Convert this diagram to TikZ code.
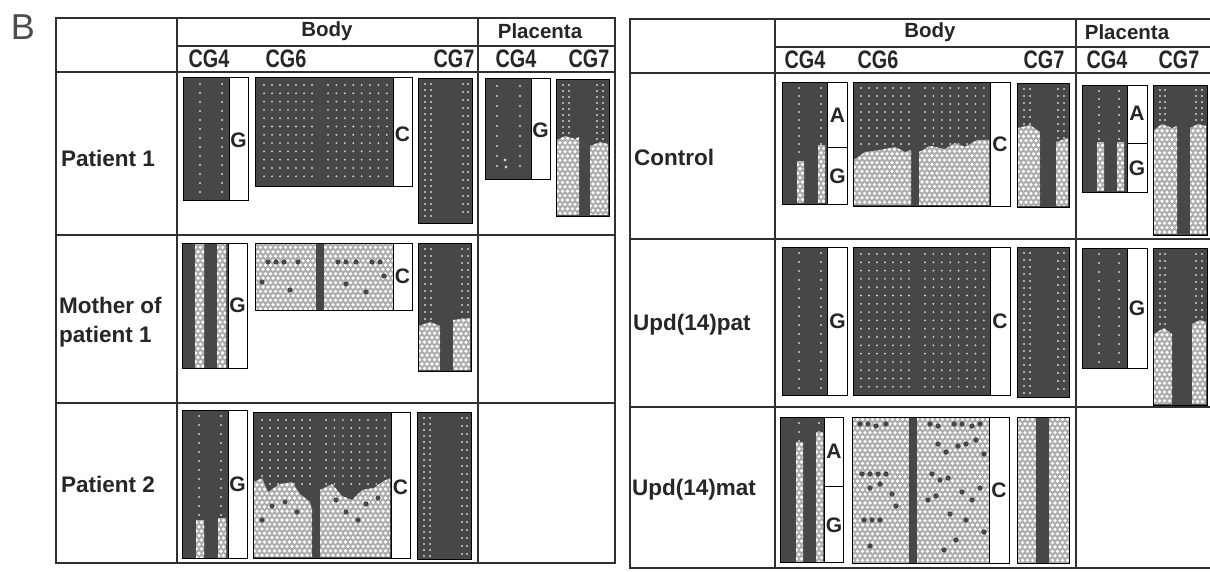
\documentclass[tikz,border=0pt]{standalone}
\usepackage{fontspec}
\setmainfont{Liberation Sans}
\definecolor{dk}{HTML}{474747}
\definecolor{ltc}{HTML}{ACACAC}
\definecolor{dt}{HTML}{D0D0D0}
\definecolor{ln}{HTML}{303030}
\tikzset{
  tline/.style={draw=ln, line width=1.3},
  dkblk/.style={fill=dk, draw=black, line width=0.9},
  lbx/.style={fill=white, draw=black, line width=0.9},
  hdr/.style={font=\fontsize{20.5}{22}\bfseries\selectfont, text=black!85, inner sep=0pt},
  cg/.style={font=\fontsize{22}{22}\bfseries\selectfont, text=black!85, inner sep=0pt},
  rowl/.style={font=\fontsize{22.5}{29}\bfseries\selectfont, text=black!85, inner sep=0pt, anchor=west, align=left},
  bl/.style={font=\fontsize{21}{21}\bfseries\selectfont, text=black!85, inner sep=0pt},
}
\newcommand{\cgt}[1]{\scalebox{0.9}[1.15]{#1}}
% dots in a dark block: x0,dx,nx,y0,dy,ny
\newcommand{\dkgrid}[6]{\foreach \ii in {0,...,#3}{\foreach \jj in {0,...,#6}{\fill[dt] ({#1+#2*\ii},{#4+#5*\jj}) circle (1.05);}}}
% light textured region: path, x0,y0,x1,y1
\newcommand{\ltreg}[5]{\begin{scope}\clip #1;\fill[ltc] (#2,#3) rectangle (#4,#5);
  \pgfmathtruncatemacro{\nxx}{(#4-#2)/5+1}\pgfmathtruncatemacro{\nyy}{(#5-#3)/4.4+1}
  \foreach \ii in {0,...,\nxx}{\foreach \jj in {0,...,\nyy}{\fill[white] ({#2+5*\ii+2.5*mod(\jj,2)},{#3+4.4*\jj}) circle (1.8);}}
  \end{scope}}
\begin{document}
\begin{tikzpicture}[x=1pt,y=-1pt]
\useasboundingbox (0,0) rectangle (1210,572);
\fill[white] (0,0) rectangle (1210,572);
\node[font=\fontsize{36}{36}\selectfont, text=black!70, inner sep=0pt] (B) at (23,27) {B};

% ================= LEFT TABLE =================
\draw[tline] (56,18) rectangle (615,563);
\draw[tline] (177,18) -- (177,563);
\draw[tline] (478,18) -- (478,563);
\draw[tline] (177,46) -- (615,46);
\draw[tline] (56,72) -- (615,72);
\draw[tline] (56,235) -- (615,235);
\draw[tline] (56,403) -- (615,403);

\node[hdr] (bodyL) at (327,31) {Body};
\node[hdr] (placL) at (540,31) {Placenta};
\node[cg] (l4) at (209,59) {\cgt{CG4}};
\node[cg] (l6) at (286,59) {\cgt{CG6}};
\node[cg] (l7) at (454,59) {\cgt{CG7}};
\node[cg] (lp4) at (516,59) {\cgt{CG4}};
\node[cg] (lp7) at (589,59) {\cgt{CG7}};

\node[rowl] (p1) at (61,158) {Patient 1};
\node[rowl] (m1) at (59,322) {Mother of\\patient 1};
\node[rowl] (p2) at (61,484) {Patient 2};

% --- Patient 1
\draw[dkblk] (183,77) rectangle (229,200);
\dkgrid{200}{22}{1}{84}{9}{12}
\draw[lbx] (229,77) rectangle (248,200);
\node[bl] (g1) at (238.5,140) {G};

\draw[dkblk] (255,77) rectangle (393,186);
\dkgrid{264}{8}{6}{85}{8.3}{11}
\dkgrid{328}{8.4}{7}{85}{8.3}{11}
\draw[lbx] (393,77) rectangle (412,186);
\node[bl] (c1) at (402.5,134) {C};

\draw[dkblk] (418,78) rectangle (472,223);
\dkgrid{425}{6}{1}{84}{6}{22}
\dkgrid{463}{5}{1}{84}{8}{16}

\draw[dkblk] (485,78) rectangle (531,179);
\dkgrid{497}{23}{1}{86}{10}{8}
\fill[dt] (505,160) circle (1.6); \fill[dt] (506,167) circle (1.6);
\draw[lbx] (531,78) rectangle (550,179);
\node[bl] (g2) at (540.5,130) {G};

\draw[dkblk] (556,79) rectangle (609,216);
\dkgrid{563}{6}{1}{85}{6}{9}
\dkgrid{597}{6}{1}{85}{6}{9}
\ltreg{(557,140)--(565,136)--(575,139)--(579,137)--(579,215)--(557,215)--cycle}{555}{134}{580}{216}
\ltreg{(590,146)--(600,142)--(608,144)--(608,215)--(590,215)--cycle}{588}{140}{609}{216}
\draw[black, line width=0.9] (556,79) rectangle (609,216);

% --- Mother of patient 1
\draw[dkblk] (182,243) rectangle (228,368);
\ltreg{(195,244) rectangle (204,367)}{193}{243}{205}{368}
\ltreg{(217,244) rectangle (226,367)}{215}{243}{227}{368}
\draw[black, line width=0.9] (182,243) rectangle (228,368);
\draw[lbx] (228,243) rectangle (247,368);
\node[bl] (g3) at (237.5,305) {G};

\ltreg{(255,243) rectangle (393,310)}{253}{243}{394}{311}
\fill[dk] (316,243) rectangle (324,310);
\foreach \p in {(268,262),(276,262),(284,262),(298,262),(338,262),(346,262),(356,262),(372,262),(380,262),(262,282),(290,290),(346,284),(366,292),(384,276)}{\fill[dk] \p circle (2.6);}
\draw[black, line width=0.9] (255,243) rectangle (393,310);
\draw[lbx] (393,243) rectangle (412,310);
\node[bl] (c2) at (402.5,276) {C};

\draw[dkblk] (418,243) rectangle (471,371);
\dkgrid{425}{6}{1}{249}{7}{10}
\dkgrid{462}{6}{1}{249}{7}{10}
\ltreg{(419,326)--(430,322)--(440,326)--(440,370)--(419,370)--cycle}{417}{320}{441}{371}
\ltreg{(453,320)--(470,318)--(470,370)--(453,370)--cycle}{451}{316}{471}{371}
\draw[black, line width=0.9] (418,243) rectangle (471,371);

% --- Patient 2
\draw[dkblk] (182,410) rectangle (228,558);
\dkgrid{199}{22}{1}{416}{9}{11}
\ltreg{(196,520) rectangle (204,557)}{194}{518}{205}{558}
\ltreg{(218,518) rectangle (226,557)}{216}{516}{227}{558}
\draw[black, line width=0.9] (182,410) rectangle (228,558);
\draw[lbx] (228,410) rectangle (247,558);
\node[bl] (g4) at (237.5,484) {G};

\draw[dkblk] (253,412) rectangle (391,558);
\dkgrid{262}{8}{6}{420}{8}{8}
\dkgrid{326}{8.4}{7}{420}{8}{8}
\ltreg{(254,482)--(262,478)--(268,492)--(280,484)--(292,482)--(300,494)--(310,502)--(312,510)--(312,557)--(254,557)--cycle}{252}{476}{313}{558}
\ltreg{(320,490)--(332,484)--(342,496)--(352,500)--(362,490)--(374,488)--(382,482)--(390,478)--(390,557)--(320,557)--cycle}{318}{476}{391}{558}
\foreach \p in {(272,506),(285,502),(297,512),(336,500),(346,512),(366,504),(378,498),(358,520),(262,520)}{\fill[dk] \p circle (2.6);}
\draw[black, line width=0.9] (253,412) rectangle (391,558);
\draw[lbx] (391,412) rectangle (410,558);
\node[bl] (c3) at (400.5,487) {C};

\draw[dkblk] (417,412) rectangle (471,559);
\dkgrid{424}{6}{1}{418}{6}{23}
\dkgrid{462}{5}{1}{418}{8}{17}

% ================= RIGHT TABLE =================
\begin{scope}
\clip (0,0) rectangle (1210,572);
\draw[tline] (630,19) rectangle (1240,568);
\draw[tline] (775,19) -- (775,568);
\draw[tline] (1076,19) -- (1076,568);
\draw[tline] (775,47) -- (1240,47);
\draw[tline] (630,73) -- (1240,73);
\draw[tline] (630,239) -- (1240,239);
\draw[tline] (630,407) -- (1240,407);

\node[hdr] (bodyR) at (930,32) {Body};
\node[hdr] (placR) at (1127,32) {Placenta};
\node[cg] (r4) at (805,60) {\cgt{CG4}};
\node[cg] (r6) at (878,60) {\cgt{CG6}};
\node[cg] (r7) at (1044,60) {\cgt{CG7}};
\node[cg] (rp4) at (1107,60) {\cgt{CG4}};
\node[cg] (rp7) at (1179,60) {\cgt{CG7}};

\node[rowl] (ctl) at (634,157) {Control};
\node[rowl] (upat) at (633,325) {Upd(14)pat};
\node[rowl] (umat) at (632,490) {Upd(14)mat};

% --- Control
\draw[dkblk] (782,82) rectangle (827,204);
\dkgrid{799}{22}{1}{88}{8}{8}
\ltreg{(797,162) rectangle (804,203)}{795}{160}{805}{204}
\ltreg{(818,146) rectangle (825,203)}{816}{144}{826}{204}
\draw[black, line width=0.9] (782,82) rectangle (827,204);
\draw[lbx] (827,82) rectangle (847,147);
\draw[lbx] (827,147) rectangle (847,204);
\node[bl] (a1) at (837.5,115) {A};
\node[bl] (g5) at (837.5,176) {G};

\draw[dkblk] (853,82) rectangle (990,206);
\dkgrid{861}{8}{6}{88}{8}{7}
\dkgrid{925}{8.4}{7}{88}{8}{7}
\ltreg{(854,160)--(865,152)--(880,150)--(895,147)--(905,152)--(911,150)--(911,205)--(854,205)--cycle}{852}{145}{912}{206}
\ltreg{(919,152)--(930,146)--(945,149)--(955,143)--(965,147)--(977,140)--(989,140)--(989,205)--(919,205)--cycle}{917}{138}{990}{206}
\draw[black, line width=0.9] (853,82) rectangle (990,206);
\draw[lbx] (990,82) rectangle (1010,206);
\node[bl] (c4) at (1000,144) {C};

\draw[dkblk] (1017,83) rectangle (1069,207);
\dkgrid{1024}{6}{1}{89}{7}{5}
\dkgrid{1058}{6}{1}{89}{7}{7}
\ltreg{(1018,128)--(1030,125)--(1040,132)--(1040,206)--(1018,206)--cycle}{1016}{123}{1041}{207}
\ltreg{(1056,142)--(1068,138)--(1068,206)--(1056,206)--cycle}{1054}{136}{1069}{207}
\draw[black, line width=0.9] (1017,83) rectangle (1069,207);

\draw[dkblk] (1082,85) rectangle (1127,192);
\dkgrid{1099}{20}{1}{91}{8}{6}
\ltreg{(1097,143) rectangle (1104,191)}{1095}{141}{1105}{192}
\ltreg{(1117,143) rectangle (1124,191)}{1115}{141}{1125}{192}
\draw[black, line width=0.9] (1082,85) rectangle (1127,192);
\draw[lbx] (1127,85) rectangle (1147,143);
\draw[lbx] (1127,143) rectangle (1147,192);
\node[bl] (a2) at (1137,113) {A};
\node[bl] (g6) at (1137,168) {G};

\draw[dkblk] (1153,85) rectangle (1207,235);
\dkgrid{1160}{5}{1}{90}{6}{5}
\dkgrid{1196}{6}{1}{90}{6}{5}
\ltreg{(1154,130)--(1162,124)--(1172,128)--(1177,126)--(1177,234)--(1154,234)--cycle}{1152}{122}{1178}{235}
\ltreg{(1190,128)--(1198,124)--(1206,126)--(1206,234)--(1190,234)--cycle}{1188}{122}{1207}{235}
\draw[black, line width=0.9] (1153,85) rectangle (1207,235);

% --- Upd(14)pat
\draw[dkblk] (782,247) rectangle (827,395);
\dkgrid{799}{22}{1}{253}{9}{15}
\draw[lbx] (827,247) rectangle (847,395);
\node[bl] (g7) at (837.5,321) {G};

\draw[dkblk] (853,247) rectangle (990,395);
\dkgrid{861}{8}{6}{254}{8.3}{16}
\dkgrid{925}{8.4}{7}{254}{8.3}{16}
\draw[lbx] (990,247) rectangle (1010,395);
\node[bl] (c5) at (1000,321) {C};

\draw[dkblk] (1017,247) rectangle (1069,397);
\dkgrid{1024}{6}{1}{253}{7}{20}
\dkgrid{1058}{6}{1}{253}{8}{17}

\draw[dkblk] (1082,248) rectangle (1127,368);
\dkgrid{1099}{20}{1}{254}{9}{12}
\draw[lbx] (1127,248) rectangle (1147,368);
\node[bl] (g8) at (1137,308) {G};

\draw[dkblk] (1153,248) rectangle (1207,405);
\dkgrid{1160}{5}{1}{254}{7}{10}
\dkgrid{1196}{6}{1}{254}{7}{10}
\ltreg{(1154,334)--(1164,328)--(1172,334)--(1172,404)--(1154,404)--cycle}{1152}{326}{1173}{405}
\ltreg{(1192,324)--(1200,320)--(1206,322)--(1206,404)--(1192,404)--cycle}{1190}{318}{1207}{405}
\draw[black, line width=0.9] (1153,248) rectangle (1207,405);

% --- Upd(14)mat
\draw[dkblk] (780,417) rectangle (824,562);
\dkgrid{799}{20}{1}{423}{9}{3}
\ltreg{(796,442) rectangle (803,561)}{794}{440}{804}{562}
\ltreg{(816,432) rectangle (823,561)}{814}{430}{824}{562}
\draw[black, line width=0.9] (780,417) rectangle (824,562);
\draw[lbx] (824,417) rectangle (843,486);
\draw[lbx] (824,486) rectangle (843,562);
\node[bl] (a3) at (834,451) {A};
\node[bl] (g9) at (834,525) {G};

\ltreg{(852,417) rectangle (989,563)}{850}{415}{990}{564}
\fill[dk] (909,417) rectangle (917,563);
\foreach \p in {(860,424),(868,424),(876,426),(886,424),(930,424),(938,426),(954,424),(962,424),(972,426),(980,424),(862,474),(870,474),(878,474),(886,474),(938,444),(946,452),(958,446),(966,444),(976,440),(984,454),(870,488),(880,484),(892,494),(932,474),(940,480),(948,478),(962,492),(972,500),(980,488),(864,520),(872,520),(880,520),(896,506),(928,500),(936,496),(950,514),(966,520),(956,540),(984,532),(944,550),(870,546)}{\fill[dk] \p circle (2.7);}
\draw[black, line width=0.9] (852,417) rectangle (989,563);
\draw[lbx] (989,417) rectangle (1009,563);
\node[bl] (c6) at (999,490) {C};

\ltreg{(1017,417) rectangle (1069,563)}{1015}{415}{1070}{564}
\fill[dk] (1036,417) rectangle (1049,563);
\draw[black, line width=0.9] (1017,417) rectangle (1069,563);
\end{scope}
\end{tikzpicture}
\end{document}
